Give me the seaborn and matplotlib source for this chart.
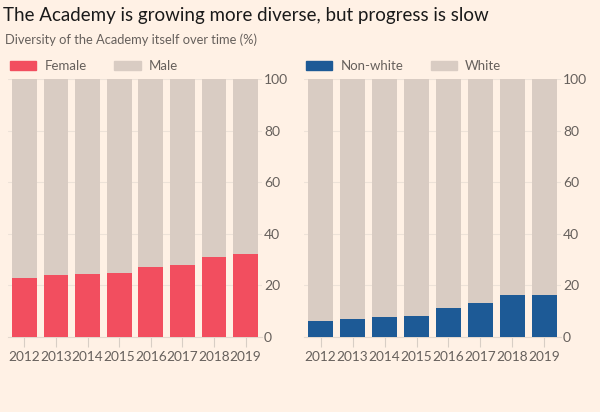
import matplotlib
matplotlib.use("Agg")
import pandas as pd
import seaborn as sns
import matplotlib.pyplot as plt
from matplotlib.patches import Patch

# data (%)
years = ["2012", "2013", "2014", "2015", "2016", "2017", "2018", "2019"]
female = [23, 24, 24.5, 25, 27, 28, 31, 32]
non_white = [6.2, 7.1, 7.8, 8.1, 11.1, 13.2, 16.2, 16.2]
total = [100] * len(years)
y_ticks = [0, 20, 40, 60, 80, 100]

bg = "#FFF1E5"
grey = "#D9CCC3"
pink = "#F24E5F"
blue = "#1D5A96"
text_col = "#66605C"

sns.set_theme(style="white")
plt.rcParams["font.family"] = ["Lato", "DejaVu Sans"]

df = pd.DataFrame({"year": years, "female": female,
                   "non_white": non_white, "total": total})

fig = plt.figure(figsize=(6, 4.12), dpi=100, facecolor=bg)
ax1 = fig.add_axes([8 / 600, 75 / 412, 254 / 600, 258 / 412])
ax2 = fig.add_axes([304 / 600, 75 / 412, 257 / 600, 258 / 412])

panels = [
    (ax1, "female", pink, "Female", "Male"),
    (ax2, "non_white", blue, "Non-white", "White"),
]

for ax, col, colour, lab_a, lab_b in panels:
    ax.set_facecolor(bg)
    for v in y_ticks[1:]:
        ax.axhline(v, color="#EDE2D8", lw=0.8, zorder=0)
    sns.barplot(data=df, x="year", y="total", color=grey, width=0.79,
                saturation=1, ax=ax, zorder=2, linewidth=0, edgecolor="none")
    sns.barplot(data=df, x="year", y=col, color=colour, width=0.79,
                saturation=1, ax=ax, zorder=3, linewidth=0, edgecolor="none")
    ax.set_xlim(-0.52, 7.52)
    ax.set_ylim(0, 100)
    ax.set_yticks(y_ticks)
    ax.yaxis.tick_right()
    ax.tick_params(axis="y", length=0, pad=1.5, labelsize=10, labelcolor=text_col)
    ax.tick_params(axis="x", length=7, width=0.8, color="#D8CEC5", pad=3,
                   labelsize=9.8, labelcolor=text_col, bottom=True)
    ax.set_xlabel("")
    ax.set_ylabel("")
    for s in ["top", "left", "right"]:
        ax.spines[s].set_visible(False)
    ax.spines["bottom"].set_color("#E3D8CE")
    ax.spines["bottom"].set_linewidth(0.8)
    handles = [Patch(color=colour, label=lab_a), Patch(color=grey, label=lab_b)]
    ax.legend(handles=handles, loc="lower left", bbox_to_anchor=(0.0, 1.02),
              ncol=2, frameon=False, handlelength=2.0, handleheight=0.7,
              handletextpad=0.6, columnspacing=2.1, borderaxespad=0.0,
              borderpad=0.15, fontsize=9.5, labelcolor=text_col)

fig.text(0.005, 0.963, "The Academy is growing more diverse, but progress is slow",
         fontsize=13.5, color="#1A1A1A", va="center", ha="left")
fig.text(0.008, 0.903, "Diversity of the Academy itself over time (%)",
         fontsize=9.3, color=text_col, va="center", ha="left")

fig.savefig("out.png", dpi=100, facecolor=bg)
